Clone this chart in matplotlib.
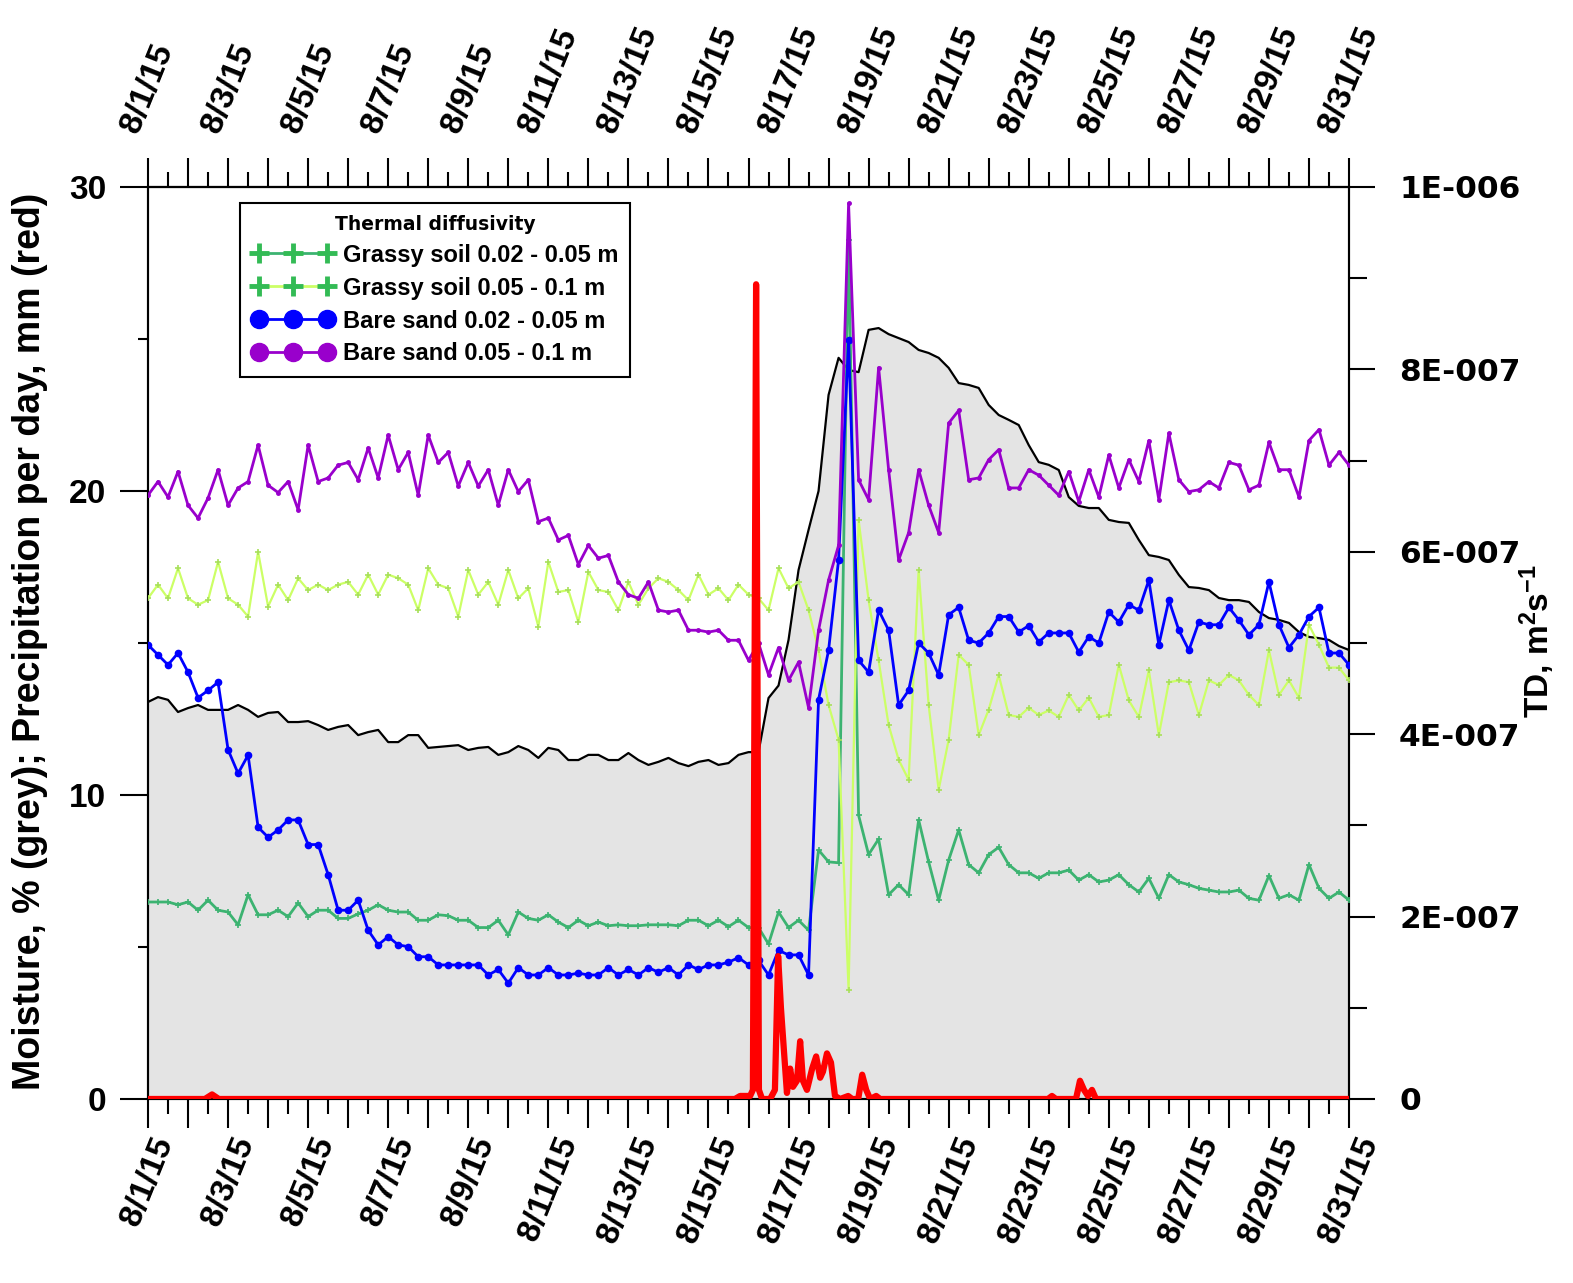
import numpy as np
import pandas as pd
import matplotlib
matplotlib.use("Agg")
import matplotlib.pyplot as plt
import matplotlib.dates as mdates
from matplotlib.lines import Line2D

plt.rcParams['font.family'] = ['Liberation Sans', 'DejaVu Sans']
plt.rcParams['font.weight'] = 'bold'
plt.rcParams['mathtext.fontset'] = 'custom'
plt.rcParams['mathtext.rm'] = 'Liberation Sans:bold'
plt.rcParams['mathtext.default'] = 'rm'

# 6-hourly readings, 8/1/15 00:00 .. 8/31/15 00:00
times = pd.date_range('2015-08-01', '2015-08-31', freq='6h')

# soil moisture, % (grey)
moisture = [
    13.06, 13.22, 13.13, 12.73, 12.86, 12.96, 12.80, 12.80, 12.80, 12.96,
    12.80, 12.57, 12.70, 12.73, 12.40, 12.40, 12.43, 12.30, 12.14, 12.24,
    12.30, 11.97, 12.07, 12.14, 11.74, 11.74, 11.97, 11.97, 11.55, 11.58,
    11.61, 11.64, 11.48, 11.55, 11.58, 11.32, 11.41, 11.61, 11.48, 11.22,
    11.55, 11.48, 11.15, 11.15, 11.32, 11.32, 11.15, 11.15, 11.38, 11.15,
    10.99, 11.09, 11.22, 11.05, 10.95, 11.09, 11.15, 10.99, 11.05, 11.32,
    11.41, 11.41, 13.19, 13.60, 15.10, 17.40, 18.72, 20.00, 23.16, 24.38,
    23.98, 23.91, 25.30, 25.36, 25.16, 25.03, 24.90, 24.64, 24.54, 24.38,
    24.05, 23.55, 23.49, 23.39, 22.83, 22.50, 22.34, 22.17, 21.51, 20.95,
    20.86, 20.69, 19.80, 19.51, 19.44, 19.44, 19.05, 18.98, 18.95, 18.39,
    17.89, 17.83, 17.73, 17.24, 16.84, 16.81, 16.74, 16.48, 16.41, 16.41,
    16.35, 16.02, 15.82, 15.76, 15.66, 15.36, 15.20, 15.16, 15.10, 14.90,
    14.77]

# thermal diffusivity, 1E-007 m2/s
grassy_shallow = [
    2.16, 2.16, 2.16, 2.13, 2.16, 2.07, 2.18, 2.07, 2.05, 1.91,
    2.24, 2.02, 2.02, 2.07, 2.00, 2.15, 2.00, 2.07, 2.07, 1.98,
    1.98, 2.03, 2.07, 2.13, 2.07, 2.05, 2.05, 1.96, 1.96, 2.02,
    2.01, 1.96, 1.96, 1.88, 1.88, 1.96, 1.80, 2.05, 1.98, 1.96,
    2.02, 1.94, 1.88, 1.96, 1.90, 1.94, 1.90, 1.91, 1.90, 1.90,
    1.91, 1.91, 1.91, 1.90, 1.96, 1.96, 1.90, 1.96, 1.89, 1.96,
    1.88, 1.88, 1.70, 2.05, 1.88, 1.96, 1.85, 2.73, 2.60, 2.59,
    9.42, 3.11, 2.68, 2.85, 2.24, 2.35, 2.24, 3.06, 2.60, 2.18,
    2.62, 2.95, 2.57, 2.48, 2.68, 2.76, 2.57, 2.48, 2.48, 2.42,
    2.48, 2.48, 2.51, 2.40, 2.46, 2.38, 2.40, 2.46, 2.35, 2.27,
    2.42, 2.20, 2.46, 2.38, 2.35, 2.31, 2.29, 2.27, 2.27, 2.29,
    2.20, 2.18, 2.45, 2.20, 2.24, 2.18, 2.57, 2.31, 2.20, 2.27,
    2.18]

grassy_deep = [
    5.49, 5.64, 5.49, 5.82, 5.49, 5.42, 5.47, 5.89, 5.49, 5.42,
    5.29, 6.00, 5.40, 5.64, 5.47, 5.71, 5.58, 5.64, 5.58, 5.64,
    5.67, 5.53, 5.75, 5.53, 5.75, 5.71, 5.64, 5.36, 5.82, 5.64,
    5.60, 5.29, 5.80, 5.53, 5.67, 5.42, 5.80, 5.49, 5.60, 5.18,
    5.89, 5.56, 5.58, 5.23, 5.78, 5.58, 5.56, 5.36, 5.67, 5.42,
    5.60, 5.71, 5.67, 5.58, 5.47, 5.75, 5.53, 5.60, 5.47, 5.64,
    5.53, 5.49, 5.36, 5.82, 5.60, 5.67, 5.36, 4.92, 4.32, 3.94,
    1.20, 6.35, 5.47, 4.81, 4.10, 3.72, 3.50, 5.80, 4.32, 3.39,
    3.94, 4.87, 4.76, 3.99, 4.27, 4.65, 4.21, 4.19, 4.29, 4.21,
    4.26, 4.19, 4.43, 4.26, 4.40, 4.19, 4.21, 4.76, 4.37, 4.19,
    4.70, 3.99, 4.57, 4.59, 4.57, 4.21, 4.59, 4.54, 4.65, 4.59,
    4.43, 4.32, 4.92, 4.43, 4.59, 4.40, 5.20, 4.98, 4.73, 4.73,
    4.59]

sand_shallow = [
    4.98, 4.87, 4.76, 4.89, 4.68, 4.40, 4.48, 4.57, 3.83, 3.57,
    3.77, 2.98, 2.87, 2.95, 3.06, 3.06, 2.79, 2.79, 2.46, 2.07,
    2.07, 2.18, 1.85, 1.69, 1.78, 1.69, 1.67, 1.56, 1.56, 1.47,
    1.47, 1.47, 1.47, 1.47, 1.36, 1.42, 1.27, 1.44, 1.36, 1.36,
    1.44, 1.36, 1.36, 1.38, 1.36, 1.36, 1.44, 1.36, 1.42, 1.36,
    1.44, 1.39, 1.44, 1.36, 1.47, 1.42, 1.47, 1.47, 1.50, 1.55,
    1.47, 1.52, 1.36, 1.63, 1.58, 1.58, 1.36, 4.38, 4.92, 5.91,
    8.32, 4.81, 4.68, 5.36, 5.14, 4.32, 4.48, 5.00, 4.89, 4.65,
    5.31, 5.39, 5.03, 5.00, 5.11, 5.29, 5.29, 5.12, 5.19, 5.01,
    5.11, 5.11, 5.11, 4.90, 5.07, 5.00, 5.34, 5.23, 5.42, 5.36,
    5.69, 4.98, 5.47, 5.14, 4.92, 5.23, 5.20, 5.20, 5.39, 5.25,
    5.09, 5.20, 5.67, 5.20, 4.95, 5.09, 5.29, 5.39, 4.89, 4.89,
    4.76]

sand_deep = [
    6.62, 6.77, 6.60, 6.88, 6.51, 6.37, 6.59, 6.90, 6.51, 6.70,
    6.77, 7.17, 6.73, 6.65, 6.77, 6.46, 7.17, 6.77, 6.81, 6.95,
    6.98, 6.79, 7.14, 6.81, 7.28, 6.90, 7.09, 6.62, 7.28, 6.98,
    7.09, 6.72, 6.98, 6.72, 6.90, 6.51, 6.90, 6.66, 6.79, 6.33,
    6.37, 6.13, 6.18, 5.86, 6.07, 5.93, 5.96, 5.67, 5.53, 5.49,
    5.67, 5.36, 5.34, 5.36, 5.14, 5.14, 5.12, 5.14, 5.03, 5.03,
    4.81, 5.00, 4.65, 4.95, 4.59, 4.79, 4.29, 5.14, 5.69, 6.07,
    9.82, 6.79, 6.57, 8.02, 6.90, 5.91, 6.21, 6.90, 6.51, 6.21,
    7.41, 7.55, 6.79, 6.81, 7.01, 7.12, 6.70, 6.70, 6.90, 6.84,
    6.73, 6.62, 6.88, 6.55, 6.90, 6.60, 7.06, 6.70, 7.01, 6.77,
    7.22, 6.57, 7.30, 6.79, 6.66, 6.68, 6.77, 6.70, 6.98, 6.95,
    6.68, 6.73, 7.20, 6.90, 6.90, 6.60, 7.22, 7.34, 6.95, 7.09,
    6.95]

# precipitation per day, mm (red); time in days after 8/1/15
rain_day = [0.0, 1.42, 1.60, 1.77, 14.66, 14.79, 15.04, 15.11, 15.19, 15.26,
            15.34, 15.54, 15.66, 15.74, 15.81, 15.89, 15.96, 16.04, 16.11, 16.21,
            16.29, 16.36, 16.46, 16.59, 16.69, 16.79, 16.86, 16.96, 17.06, 17.16,
            17.29, 17.49, 17.59, 17.74, 17.84, 17.94, 18.04, 18.19, 18.29, 22.48,
            22.58, 22.68, 23.18, 23.28, 23.38, 23.48, 23.58, 23.68, 30.0]
rain_mm = [0, 0, 0.15, 0, 0, 0.1, 0.1, 0.3, 26.8, 0.3,
           0, 0, 0.3, 4.7, 3.0, 1.5, 0.2, 1.0, 0.4, 0.6,
           1.9, 0.6, 0.3, 1.0, 1.4, 0.7, 0.9, 1.5, 1.2, 0.1,
           0, 0.1, 0, 0, 0.8, 0.3, 0, 0.1, 0, 0,
           0.1, 0, 0, 0.6, 0.3, 0.1, 0.3, 0, 0]

legend_labels = ['Grassy soil 0.02 - 0.05 m', 'Grassy soil 0.05 - 0.1 m',
                 'Bare sand 0.02 - 0.05 m', 'Bare sand 0.05 - 0.1 m']

t = mdates.date2num(times)
t0 = mdates.date2num(pd.Timestamp('2015-08-01'))
rain_t = t0 + np.array(rain_day)
e7 = 1e-7

fig = plt.figure(figsize=(15.73, 12.83), dpi=100)
ax1 = fig.add_axes([148 / 1573, 1 - 1099 / 1283, 1201 / 1573, 912 / 1283])
ax2 = ax1.twinx()

# moisture, grey area with black outline
ax1.fill_between(t, moisture, 0, color='#e4e4e4', lw=0, zorder=1)
ax1.plot(t, moisture, color='black', lw=1.6, zorder=2)

# thermal diffusivity on the right axis
ax2.plot(t, np.array(grassy_shallow) * e7, color='#3cb371', lw=2, marker='+', ms=5, mew=1.2, zorder=3)
ax2.plot(t, np.array(grassy_deep) * e7, color='#ccff66', lw=1.6, marker='+', ms=5, mew=1.2,
         mec='#a8e05a', zorder=3)
ax2.plot(t, np.array(sand_shallow) * e7, color='#0000ff', lw=2, marker='o', ms=4.5, zorder=4)
ax2.plot(t, np.array(sand_deep) * e7, color='#9900cc', lw=2, marker='o', ms=2.5, zorder=4)

# rain on top of everything, in left axis units
ax2.plot(rain_t, rain_mm, color='#ff0000', lw=4.5, transform=ax1.transData, zorder=6)

ax1.set_xlim(t0, t0 + 30)
ax1.set_ylim(0, 30)
ax2.set_ylim(0, 1e-6)

# date ticks: every day, labels every second day
day_ticks = pd.date_range('2015-08-01', '2015-08-31', freq='D')
day_labels = [f'{d.month}/{d.day}/{d.year % 100}' if d.day % 2 == 1 else '' for d in day_ticks]
half_days = pd.date_range('2015-08-01 12:00', '2015-08-30 12:00', freq='D')

ax1.set_xticks(mdates.date2num(day_ticks), day_labels, rotation=68, fontsize=24)
ax1.set_xticks(mdates.date2num(half_days), minor=True)
ax1.tick_params(axis='x', which='major', direction='out', length=21, width=1.5, pad=3)
ax1.tick_params(axis='x', which='minor', direction='out', length=10.5, width=1.5)

top = ax1.secondary_xaxis('top')
top.set_xticks(mdates.date2num(day_ticks), day_labels, rotation=68, fontsize=24)
top.set_xticks(mdates.date2num(half_days), minor=True)
top.tick_params(axis='x', which='major', direction='out', length=21, width=1.5, pad=15)
top.tick_params(axis='x', which='minor', direction='out', length=10.5, width=1.5)
top.spines['top'].set_linewidth(1.5)

ax1.set_yticks([0, 10, 20, 30], ['0', '10', '20', '30'], fontsize=24)
ax1.set_yticks([5, 15, 25], minor=True)
ax1.tick_params(axis='y', which='major', direction='out', length=20, width=1.5, pad=10)
ax1.tick_params(axis='y', which='minor', direction='out', length=7, width=1.5)

td_ticks = [0, 2e-7, 4e-7, 6e-7, 8e-7, 1e-6]
td_labels = ['0', '2E-007', '4E-007', '6E-007', '8E-007', '1E-006']
ax2.set_yticks(td_ticks, td_labels, fontsize=22.5, fontfamily='DejaVu Sans')
ax2.set_yticks([1e-7, 3e-7, 5e-7, 7e-7, 9e-7], minor=True)
ax2.tick_params(axis='y', which='major', direction='out', length=19, width=1.5, pad=17)
ax2.tick_params(axis='y', which='minor', direction='out', length=13, width=1.5)

for ax in (ax1, ax2):
    for s in ax.spines.values():
        s.set_linewidth(1.5)

# legend with big markers
handles = [
    Line2D([], [], color='#3cb371', lw=2, marker='+', ms=15, mew=3.5, mec='#33bb55'),
    Line2D([], [], color='#ccff66', lw=2, marker='+', ms=15, mew=3.5, mec='#33bb55'),
    Line2D([], [], color='#0000ff', lw=2, marker='o', ms=13),
    Line2D([], [], color='#9900cc', lw=2, marker='o', ms=13),
]
leg = ax2.legend(handles, legend_labels, loc='upper left', bbox_to_anchor=(0.0766, 0.9825),
                 borderaxespad=0, numpoints=3, handlelength=3.5, handletextpad=0.35,
                 labelspacing=0.42, fontsize=17, title='Thermal diffusivity',
                 title_fontproperties={'family': 'DejaVu Sans', 'weight': 'bold', 'size': 13.5},
                 frameon=True, fancybox=False, edgecolor='black', framealpha=1, borderpad=0.5)
leg.get_frame().set_linewidth(1.5)
leg.set_zorder(10)

fig.text(0.019, 0.5, 'Moisture, % (grey); Precipitation per day, mm (red)',
         rotation=90, ha='center', va='center', fontsize=27)
fig.text(0.977, 0.5, r'TD, m$^{2}$s$^{-1}$', rotation=90, ha='center', va='center', fontsize=24)

fig.savefig('out.png', dpi=100)
